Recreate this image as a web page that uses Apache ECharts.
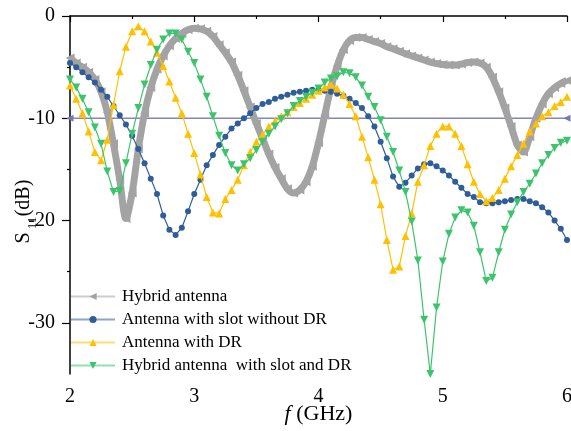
<!DOCTYPE html>
<html><head><meta charset="utf-8">
<script src="https://cdn.jsdelivr.net/npm/echarts@6/dist/echarts.min.js"></script>
<style>html,body{margin:0;padding:0;background:#fff}#c{width:571px;height:431px}</style>
</head><body><div id="c"></div>
<script>
const freq = [2.00,2.05,2.10,2.15,2.20,2.25,2.30,2.35,2.40,2.45,2.50,2.55,2.60,2.65,2.70,2.75,2.80,2.85,2.90,2.95,
  3.00,3.05,3.10,3.15,3.20,3.25,3.30,3.35,3.40,3.45,3.50,3.55,3.60,3.65,3.70,3.75,3.80,3.85,3.90,3.95,
  4.00,4.05,4.10,4.15,4.20,4.25,4.30,4.35,4.40,4.45,4.50,4.55,4.60,4.65,4.70,4.75,4.80,4.85,4.90,4.95,
  5.00,5.05,5.10,5.15,5.20,5.25,5.30,5.35,5.40,5.45,5.50,5.55,5.60,5.65,5.70,5.75,5.80,5.85,5.90,5.95,6.00];

const hybrid = [-4.1,-4.6,-5.0,-5.5,-6.2,-7.4,-9.4,-12.5,-16.0,-19.8,-17.3,-13.0,-9.5,-7.0,-5.2,-3.9,-2.9,-2.2,-1.7,-1.35,
  -1.2,-1.25,-1.5,-2.0,-2.8,-3.6,-4.5,-5.8,-7.3,-8.9,-10.5,-12.0,-13.5,-14.8,-15.9,-16.9,-17.3,-17.0,-16.2,-14.7,
  -12.4,-9.7,-7.0,-4.9,-3.3,-2.4,-2.1,-2.1,-2.3,-2.5,-2.7,-3.0,-3.2,-3.45,-3.7,-3.9,-4.1,-4.3,-4.5,-4.65,
  -4.75,-4.8,-4.8,-4.7,-4.55,-4.5,-4.6,-5.0,-6.0,-7.4,-9.0,-10.8,-12.6,-13.3,-11.8,-10.0,-8.6,-7.6,-7.0,-6.6,-6.3];

const slotNoDR = [-4.6,-5.0,-5.5,-6.0,-6.5,-7.2,-7.9,-8.8,-9.7,-10.6,-11.7,-13.0,-14.4,-15.9,-17.4,-19.5,-20.9,-21.4,-20.7,-19.1,
  -17.4,-16.0,-14.6,-13.6,-12.6,-11.8,-11.0,-10.5,-10.0,-9.5,-9.0,-8.6,-8.4,-8.1,-7.9,-7.7,-7.5,-7.4,-7.3,-7.2,
  -7.2,-7.3,-7.4,-7.6,-7.8,-8.1,-8.5,-9.0,-9.8,-10.8,-12.3,-13.9,-15.7,-16.7,-16.3,-15.6,-14.9,-14.5,-14.4,-14.7,
  -15.1,-15.6,-16.2,-16.8,-17.4,-17.7,-18.2,-18.3,-18.3,-18.2,-18.1,-18.0,-17.9,-17.9,-18.1,-18.3,-18.7,-19.2,-20.0,-20.8,-21.9];

const withDR = [-6.8,-8.1,-9.5,-11.3,-13.3,-14.1,-12.1,-8.7,-5.4,-3.0,-1.5,-1.0,-1.5,-2.5,-3.6,-4.9,-6.4,-8.0,-9.5,-11.5,
  -13.4,-15.5,-17.7,-19.2,-19.3,-17.9,-17.0,-16.0,-14.6,-13.3,-12.3,-11.6,-10.8,-10.3,-9.8,-9.4,-8.9,-8.5,-8.1,-7.7,
  -7.3,-7.0,-6.7,-7.1,-7.7,-8.6,-9.8,-11.8,-13.8,-16.0,-18.4,-21.9,-24.8,-24.5,-21.5,-19.3,-16.2,-14.6,-12.7,-11.5,
  -10.8,-10.8,-11.5,-12.7,-14.5,-16.2,-17.4,-18.1,-17.8,-17.0,-15.9,-14.7,-13.6,-12.5,-11.3,-10.5,-9.8,-9.4,-8.8,-8.4,-7.9];

const slotAndDR = [-6.2,-7.0,-8.1,-9.4,-10.9,-12.5,-15.2,-17.2,-17.1,-14.4,-11.5,-9.0,-6.7,-4.8,-3.3,-2.3,-1.7,-1.7,-2.3,-3.5,
  -4.6,-6.2,-7.9,-9.8,-11.7,-13.4,-14.6,-15.1,-14.5,-13.9,-13.1,-12.3,-11.5,-10.8,-10.1,-9.5,-8.8,-8.3,-7.9,-7.5,
  -7.1,-6.5,-6.1,-5.9,-5.5,-5.6,-6.0,-6.8,-7.9,-8.9,-10.2,-11.8,-13.3,-15.1,-17.2,-20.1,-23.9,-29.7,-35.0,-28.5,
  -24.0,-21.3,-19.7,-19.0,-19.2,-20.5,-23.1,-25.9,-25.6,-23.1,-20.9,-19.4,-18.2,-17.2,-16.4,-15.4,-14.4,-13.6,-12.9,-12.4,-12.2];

const refLineX = [2, 6];
const refLineY = [-10, -10];

const seriesNames = ['Hybrid antenna', 'Antenna with slot without DR', 'Antenna with DR', 'Hybrid antenna  with slot and DR'];
const yMajorTicks = [0, -10, -20, -30];
const yMinorTicks = [-5, -15, -25];

const FONT = '"Liberation Serif","Times New Roman",serif';
const pair = (vals) => freq.map((f, i) => [f, vals[i]]);

const chart = echarts.init(document.getElementById('c'), null, {renderer: 'canvas'});
chart.setOption({
  animation: false,
  backgroundColor: '#fff',
  grid: {left: 70, right: 4, top: 16, bottom: 57, containLabel: false, outerBoundsMode: 'none'},
  xAxis: {
    type: 'value', min: 2, max: 6, interval: 1,
    axisLine: {lineStyle: {color: '#000', width: 1.5}},
    axisTick: {length: 6, lineStyle: {color: '#000', width: 1.2}},
    minorTick: {show: true, splitNumber: 2, length: 3, lineStyle: {color: '#000', width: 1.2}},
    splitLine: {show: false}, minorSplitLine: {show: false},
    axisLabel: {color: '#000', fontFamily: FONT, fontSize: 20, margin: 13},
    name: '{i|f} (GHz)', nameLocation: 'middle', nameGap: 29, nameMoveOverlap: false,
    nameTextStyle: {color: '#000', fontFamily: FONT, fontSize: 22,
      rich: {i: {fontStyle: 'italic', fontFamily: FONT, fontSize: 22, color: '#000'}}}
  },
  yAxis: [{
    type: 'value', min: -35, max: 0,
    axisLine: {show: true, lineStyle: {color: '#000', width: 1.5}},
    axisTick: {show: true, customValues: yMajorTicks, length: 8, lineStyle: {color: '#000', width: 1.2}},
    axisLabel: {customValues: yMajorTicks, color: '#000', fontFamily: FONT, fontSize: 20, margin: 15},
    splitLine: {show: false}
  }, {
    type: 'value', min: -35, max: 0, position: 'left',
    axisLine: {show: false},
    axisTick: {show: true, customValues: yMinorTicks, length: 3, lineStyle: {color: '#000', width: 1.2}},
    axisLabel: {show: false},
    splitLine: {show: false}
  }],
  legend: {
    orient: 'vertical', left: 70, top: 288, padding: 0, itemWidth: 44, itemHeight: 9, itemGap: 6,
    data: seriesNames,
    textStyle: {color: '#000', fontFamily: FONT, fontSize: 17, lineHeight: 17, padding: [0, 0, 0, 2]},
    lineStyle: {width: 2, opacity: 0.55}
  },
  graphic: [
    {type: 'text', x: 24, y: 198, rotation: Math.PI / 2,
      style: {text: '(dB)', fontFamily: FONT, fontSize: 20, fill: '#000', align: 'center', verticalAlign: 'middle'}},
    {type: 'text', x: 24, y: 238, rotation: Math.PI / 2,
      style: {text: 'S', fontFamily: FONT, fontSize: 20, fill: '#000', align: 'center', verticalAlign: 'middle'}},
    {type: 'text', x: 33, y: 223, rotation: Math.PI / 2,
      style: {text: '11', fontFamily: FONT, fontSize: 13, fill: '#000', align: 'center', verticalAlign: 'middle'}}
  ],
  series: [
    {type: 'line', data: refLineX.map((x, i) => [x, refLineY[i]]), symbol: 'triangle', symbolRotate: 90, symbolSize: 7,
      lineStyle: {color: '#8686b6', width: 1.5}, itemStyle: {color: '#7878ae'}, silent: true, z: 1},
    {name: seriesNames[0], type: 'line', data: pair(hybrid), smooth: 0.3, symbol: 'triangle', symbolRotate: 90, symbolSize: 9,
      lineStyle: {color: '#a3a3a3', width: 7}, itemStyle: {color: '#a3a3a3'}, z: 2},
    {name: seriesNames[1], type: 'line', data: pair(slotNoDR), symbol: 'circle', symbolSize: 6,
      lineStyle: {color: '#2f5d9a', width: 1.2}, itemStyle: {color: '#2f5d9a'}, z: 3},
    {name: seriesNames[2], type: 'line', data: pair(withDR), symbol: 'triangle', symbolSize: 8,
      lineStyle: {color: '#ffc000', width: 1.2}, itemStyle: {color: '#ffc000'}, z: 4},
    {name: seriesNames[3], type: 'line', data: pair(slotAndDR), symbol: 'triangle', symbolRotate: 180, symbolSize: 8,
      lineStyle: {color: '#3cc46c', width: 1.2}, itemStyle: {color: '#3cc46c'}, z: 5}
  ]
});
</script>
</body></html>
